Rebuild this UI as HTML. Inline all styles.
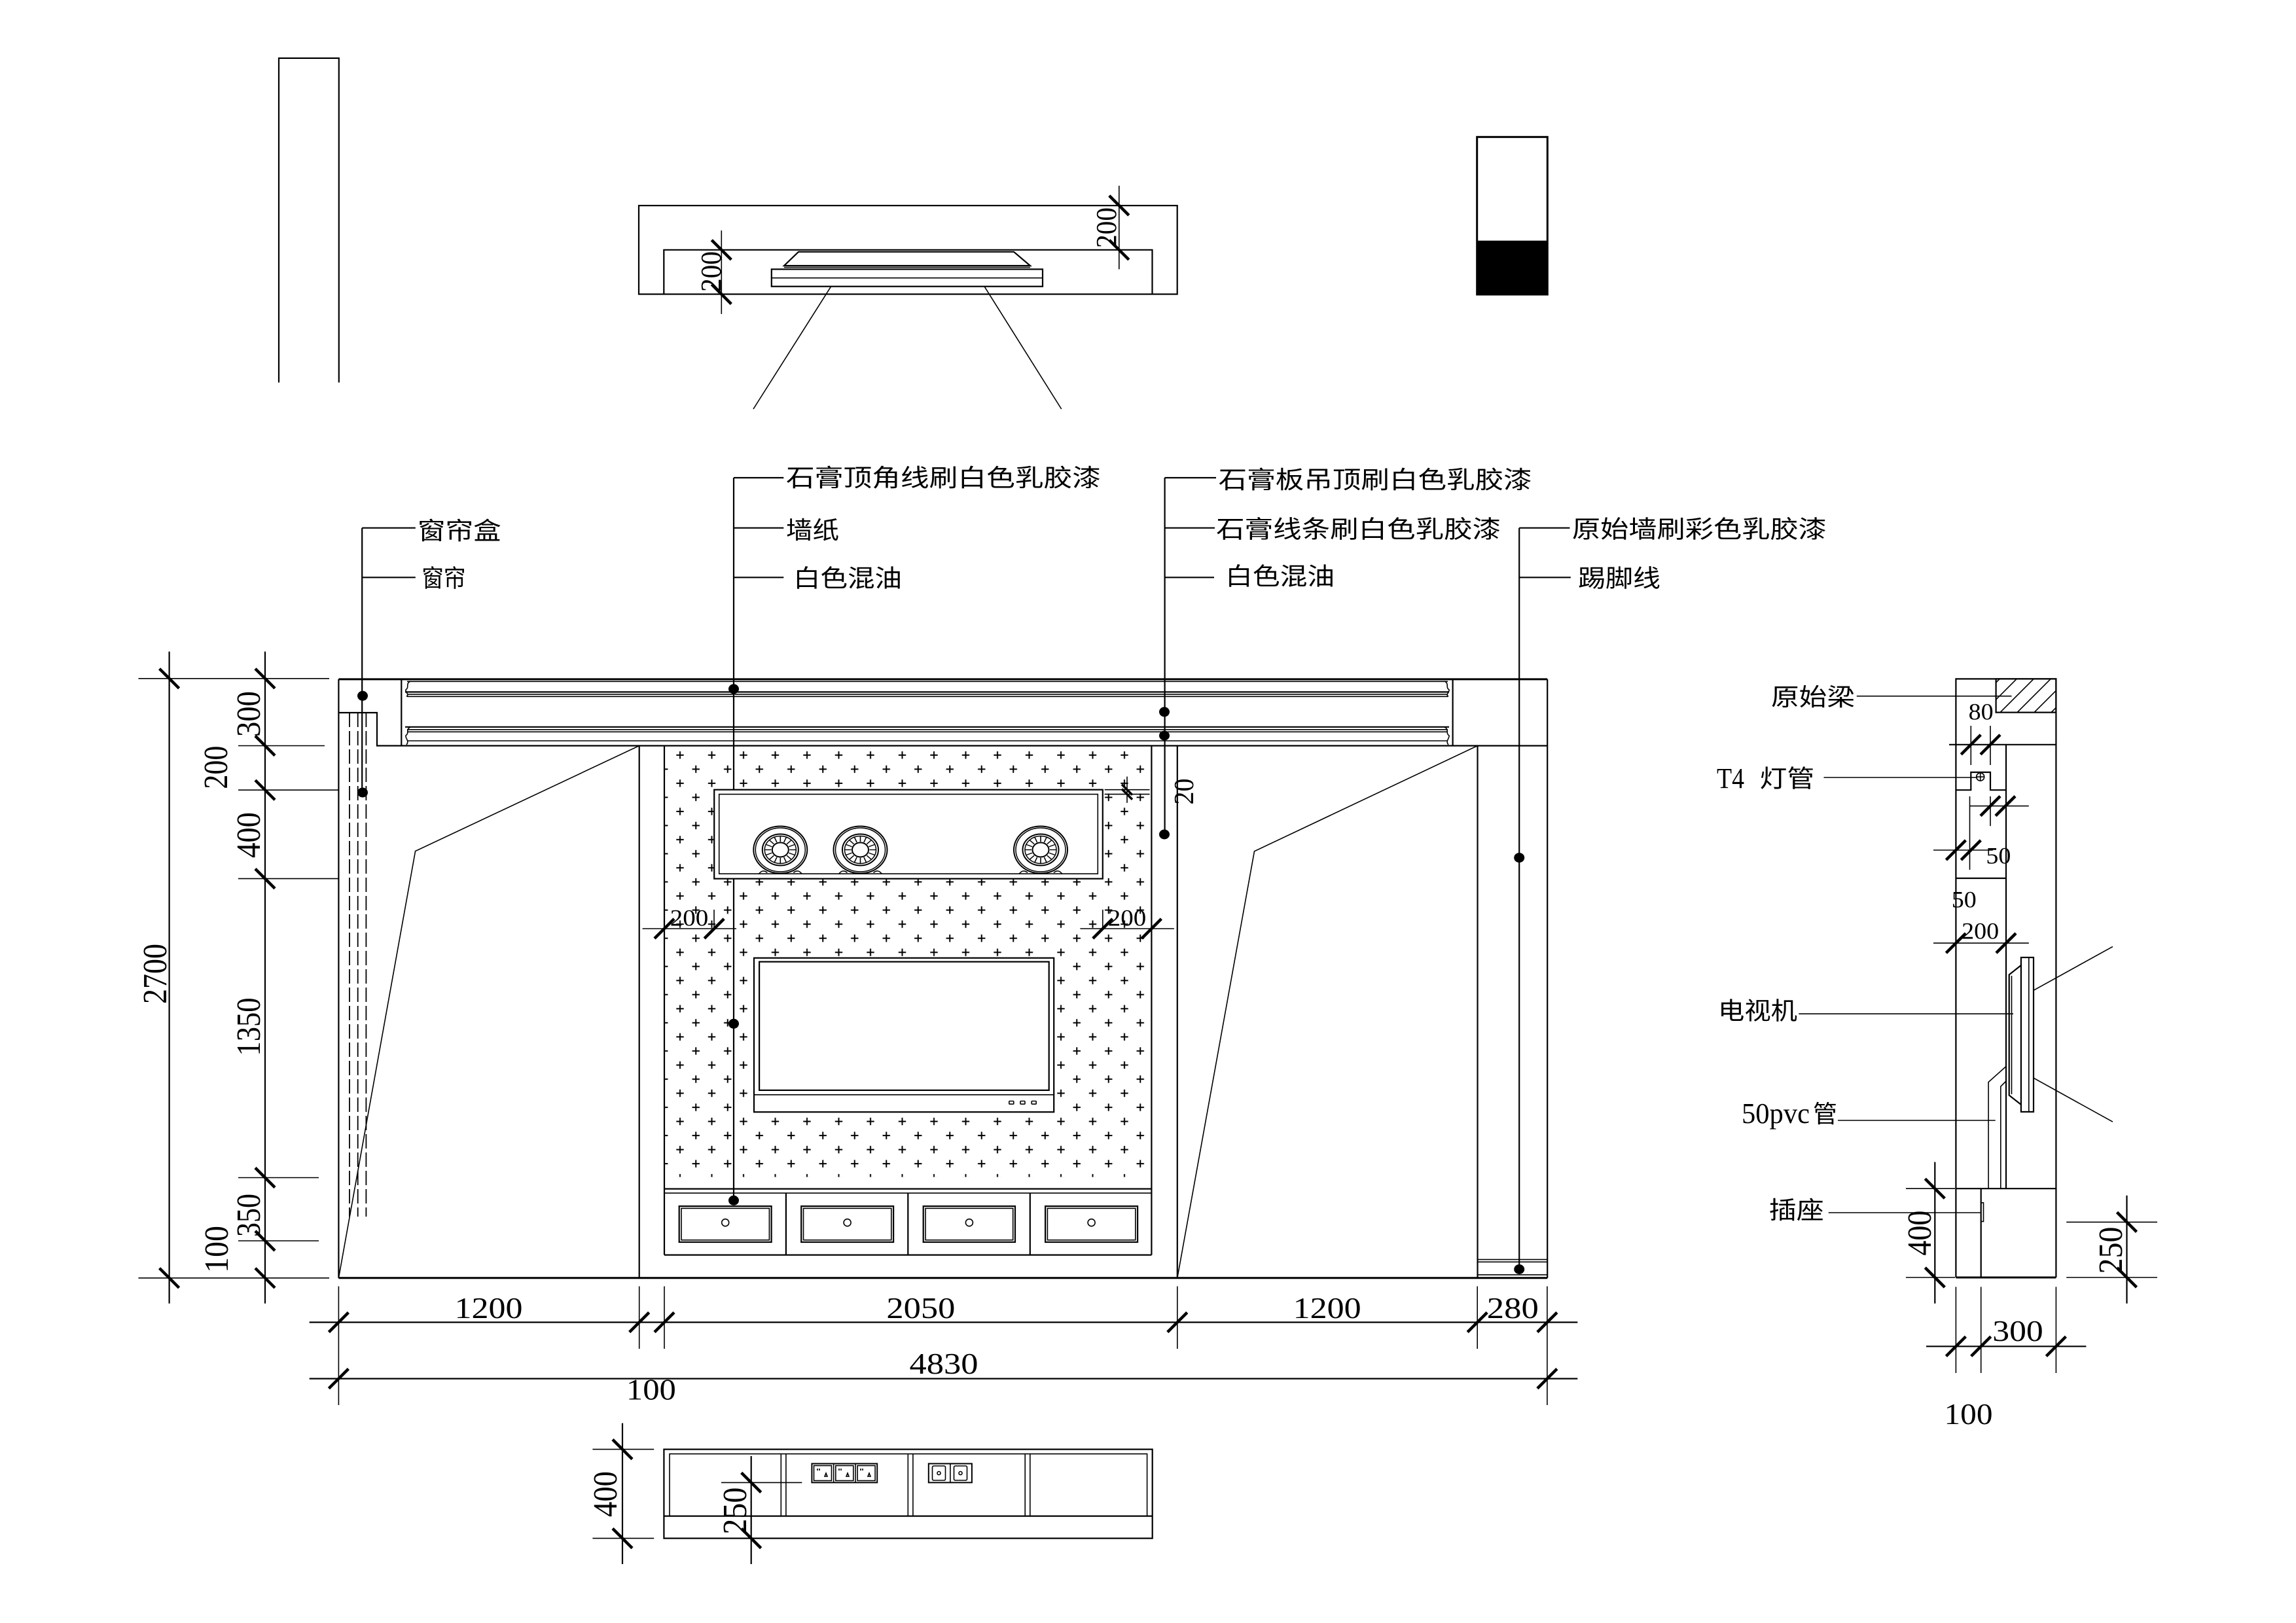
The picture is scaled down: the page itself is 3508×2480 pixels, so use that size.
<!DOCTYPE html>
<html>
<head>
<meta charset="utf-8">
<style>
html,body{margin:0;padding:0;background:#fff;}
svg{display:block;}
.s{stroke:#000;fill:none;stroke-width:2.2;}
.t{stroke:#000;fill:none;stroke-width:1.6;}
.b{stroke:#000;fill:none;stroke-width:3;}
.k{stroke:#000;fill:none;stroke-width:4.5;}
.n{font-family:"Liberation Serif",serif;font-size:46px;fill:#000;}
.r{font-family:"Liberation Serif",serif;font-size:52px;fill:#000;}
.m{font-family:"Liberation Serif",serif;font-size:36px;fill:#000;}
.c{font-family:"Liberation Sans","Noto Sans CJK SC",sans-serif;font-size:37px;fill:#000;}
</style>
</head>
<body>
<svg width="3508" height="2480" viewBox="0 0 3508 2480" xmlns="http://www.w3.org/2000/svg">
<defs>
  <pattern id="wp" patternUnits="userSpaceOnUse" x="1014.75" y="1143.03" width="48.5" height="43.06">
    <path d="M18.55 10.77h11.4M24.25 5.07v11.4M-5.7 32.3h11.4M0 26.6v11.4M42.8 32.3h11.4M48.5 26.6v11.4" stroke="#000" stroke-width="2" fill="none"/>
  </pattern>
  <clipPath id="beam"><rect x="3049.6" y="1037.4" width="91.8" height="51.2"/></clipPath>
  <g id="spk">
    <ellipse cx="0" cy="0" rx="41" ry="36" style="fill:#fff" stroke="#000" stroke-width="2"/>
    <ellipse cx="0" cy="0" rx="38" ry="33.5" fill="none" stroke="#000" stroke-width="1.5"/>
    <ellipse cx="0" cy="0" rx="27.5" ry="24" fill="none" stroke="#000" stroke-width="2"/>
    <ellipse cx="0" cy="0" rx="24" ry="21" fill="none" stroke="#000" stroke-width="1.5"/>
    <g stroke="#000" stroke-width="1.6" transform="scale(1,0.88)">
      <line x1="0" y1="-14" x2="0" y2="-24"/>
      <line x1="0" y1="14" x2="0" y2="24"/>
      <line x1="-14" y1="0" x2="-24" y2="0"/>
      <line x1="14" y1="0" x2="24" y2="0"/>
      <line x1="9.9" y1="9.9" x2="17" y2="17"/>
      <line x1="-9.9" y1="9.9" x2="-17" y2="17"/>
      <line x1="9.9" y1="-9.9" x2="17" y2="-17"/>
      <line x1="-9.9" y1="-9.9" x2="-17" y2="-17"/>
      <line x1="5.4" y1="12.9" x2="9.2" y2="22.2"/>
      <line x1="-5.4" y1="12.9" x2="-9.2" y2="22.2"/>
      <line x1="5.4" y1="-12.9" x2="9.2" y2="-22.2"/>
      <line x1="-5.4" y1="-12.9" x2="-9.2" y2="-22.2"/>
      <line x1="12.9" y1="5.4" x2="22.2" y2="9.2"/>
      <line x1="-12.9" y1="5.4" x2="-22.2" y2="9.2"/>
      <line x1="12.9" y1="-5.4" x2="22.2" y2="-9.2"/>
      <line x1="-12.9" y1="-5.4" x2="-22.2" y2="-9.2"/>
    </g>
    <ellipse cx="0" cy="0" rx="12.5" ry="11" style="fill:#fff" stroke="#000" stroke-width="2"/>
    <path d="M-33 37 Q-27 29 -20 35 M20 35 Q27 29 33 37" fill="none" stroke="#000" stroke-width="1.6"/>
  </g>
</defs>

<rect width="3508" height="2480" fill="#fff"/>

<!-- ============ TOP-LEFT PILLAR ============ -->
<path class="s" d="M426 584.5V88.9H517.8V584.5"/>

<!-- ============ TOP PLAN ============ -->
<rect class="s" x="976" y="314.1" width="822.7" height="135.4"/>
<path class="s" d="M1014.3 449.5V381.8H1760.5V449.5"/>
<path class="s" d="M1220 384.8H1549L1574 406H1198Z"/>
<line class="t" x1="1198" y1="408.5" x2="1574" y2="408.5"/>
<rect class="s" x="1178.8" y="411.4" width="414.2" height="26.3"/>
<line class="t" x1="1178.8" y1="424.7" x2="1593" y2="424.7"/>
<line class="t" x1="1269.7" y1="437.7" x2="1151" y2="625"/>
<line class="t" x1="1504" y1="437.7" x2="1621.7" y2="625"/>
<line class="t" x1="1102.3" y1="352.2" x2="1102.3" y2="479.8"/>
<line class="t" x1="1709.8" y1="283.8" x2="1709.8" y2="411.4"/>
<path class="k" d="M1087.3 366.8L1117.3 396.8M1087.3 434.5L1117.3 464.5M1694.8 299L1724.8 329M1694.8 366.8L1724.8 396.8"/>
<text class="r" style="font-size:44px" text-anchor="middle" textLength="62" lengthAdjust="spacingAndGlyphs" transform="translate(1101,415) rotate(-90)">200</text>
<text class="r" style="font-size:44px" text-anchor="middle" textLength="62" lengthAdjust="spacingAndGlyphs" transform="translate(1705,348) rotate(-90)">200</text>

<!-- ============ TOP-RIGHT BOX ============ -->
<rect x="2256.7" y="209.3" width="107.6" height="240.7" fill="none" stroke="#000" stroke-width="3"/>
<rect x="2256.7" y="367.7" width="107.6" height="82.3" fill="#000"/>

<!-- ============ LABELS & LEADERS ============ -->
<g class="s">
  <path d="M553.2 806.7V1211M553.2 806.7H634.8M553.2 882.3H634.8"/>
  <path d="M1121 730V1834.3M1121 730H1197.3M1121 806.7H1197.3M1121 882.3H1197.3"/>
  <path d="M1779.6 730V1275M1779.6 730H1858M1779.6 806.7H1856M1779.6 882.3H1855"/>
  <path d="M2321.2 806.7V1939.5M2321.2 806.7H2398.4M2321.2 882.3H2399.8"/>
</g>
<g fill="#000">
  <ellipse cx="554" cy="1063.3" rx="8" ry="7.5"/>
  <ellipse cx="554" cy="1211" rx="8" ry="7.5"/>
  <ellipse cx="1121" cy="1052.8" rx="8" ry="7.5"/>
  <ellipse cx="1121" cy="1564.3" rx="8" ry="7.5"/>
  <ellipse cx="1121" cy="1834.3" rx="8" ry="7.5"/>
  <ellipse cx="1779" cy="1087.8" rx="8" ry="7.5"/>
  <ellipse cx="1779" cy="1124" rx="8" ry="7.5"/>
  <ellipse cx="1779" cy="1275" rx="8" ry="7.5"/>
  <ellipse cx="2321.2" cy="1310.6" rx="8" ry="7.5"/>
  <ellipse cx="2321.2" cy="1939.5" rx="8" ry="7.5"/>
</g>
<text class="c" x="638" y="824" textLength="127.6" lengthAdjust="spacingAndGlyphs">窗帘盒</text>
<text class="c" x="644.4" y="896.5" textLength="67" lengthAdjust="spacingAndGlyphs">窗帘</text>
<text class="c" x="1201" y="743" textLength="481" lengthAdjust="spacingAndGlyphs">石膏顶角线刷白色乳胶漆</text>
<text class="c" x="1201" y="823" textLength="81" lengthAdjust="spacingAndGlyphs">墙纸</text>
<text class="c" x="1212" y="896.5" textLength="166" lengthAdjust="spacingAndGlyphs">白色混油</text>
<text class="c" x="1861.7" y="746" textLength="479" lengthAdjust="spacingAndGlyphs">石膏板吊顶刷白色乳胶漆</text>
<text class="c" x="1858.2" y="821.5" textLength="435" lengthAdjust="spacingAndGlyphs">石膏线条刷白色乳胶漆</text>
<text class="c" x="1872.2" y="893.5" textLength="167" lengthAdjust="spacingAndGlyphs">白色混油</text>
<text class="c" x="2401.9" y="821.5" textLength="389" lengthAdjust="spacingAndGlyphs">原始墙刷彩色乳胶漆</text>
<text class="c" x="2411" y="896.5" textLength="126" lengthAdjust="spacingAndGlyphs">踢脚线</text>

<!-- ============ MAIN ELEVATION ============ -->
<rect x="1015" y="1140" width="744.4" height="658.5" fill="url(#wp)"/>
<line class="b" x1="517.4" y1="1037.9" x2="2364.2" y2="1037.9"/>
<line class="b" x1="517.4" y1="1952.8" x2="2364.2" y2="1952.8"/>
<line class="s" x1="517.4" y1="1037.9" x2="517.4" y2="1952.8"/>
<line class="s" x1="2364.2" y1="1037.9" x2="2364.2" y2="1952.8"/>
<path class="s" d="M517.4 1089H576V1139.5H2364.2"/>
<line class="s" x1="613.3" y1="1037.9" x2="613.3" y2="1139.5"/>
<line class="s" x1="2219.6" y1="1037.9" x2="2219.6" y2="1139.5"/>
<g class="t">
  <line x1="622" y1="1041.3" x2="2212" y2="1041.3"/>
  <line x1="622" y1="1060.9" x2="2212" y2="1060.9"/>
  <line x1="622" y1="1064.3" x2="2212" y2="1064.3"/>
  <line x1="622" y1="1114.8" x2="2212" y2="1114.8"/>
  <line x1="622" y1="1118.3" x2="2212" y2="1118.3"/>
  <line x1="622" y1="1132" x2="2212" y2="1132"/>
  <path d="M627 1041 C619 1045 626 1050 620 1054 C619 1058 626 1061 621 1064.3"/>
  <path d="M627 1111 C619 1115 626 1120 620 1124 C619 1128 626 1132 621 1138"/>
  <path d="M2207 1041 C2215 1045 2208 1050 2214 1054 C2215 1058 2208 1061 2213 1064.3"/>
  <path d="M2207 1111 C2215 1115 2208 1120 2214 1124 C2215 1128 2208 1132 2213 1138"/>
</g>
<line class="s" x1="619" y1="1057.4" x2="2214" y2="1057.4"/>
<line class="s" x1="619" y1="1110.8" x2="2214" y2="1110.8"/>
<g stroke="#000" stroke-width="1.8" stroke-dasharray="22 6" fill="none">
  <line x1="534" y1="1089" x2="534" y2="1859"/>
  <line x1="546.7" y1="1089" x2="546.7" y2="1859"/>
  <line x1="559.4" y1="1089" x2="559.4" y2="1859"/>
</g>
<line class="s" x1="976.7" y1="1139.5" x2="976.7" y2="1952.8"/>
<line class="s" x1="1015" y1="1139.5" x2="1015" y2="1917.6"/>
<line class="s" x1="1759.4" y1="1139.5" x2="1759.4" y2="1917.6"/>
<line class="s" x1="1798.8" y1="1139.5" x2="1798.8" y2="1952.8"/>
<line class="s" x1="2257.5" y1="1139.5" x2="2257.5" y2="1952.8"/>
<path class="t" d="M976.7 1139.5L634.6 1300.6L517.4 1952.8"/>
<path class="t" d="M2257.5 1139.5L1916.5 1300.8L1798.8 1952.8"/>
<line class="t" x1="2257.5" y1="1924.6" x2="2364.2" y2="1924.6"/>
<line class="t" x1="2257.5" y1="1928.3" x2="2364.2" y2="1928.3"/>
<line class="t" x1="2257.5" y1="1947.9" x2="2364.2" y2="1947.9"/>
<!-- speaker box -->
<rect x="1091.2" y="1206.7" width="593.6" height="136" style="fill:#fff;stroke:#000;stroke-width:2.2"/>
<rect class="t" x="1098.7" y="1213.6" width="578.6" height="121.6"/>
<use href="#spk" x="1192.3" y="1298.5"/>
<use href="#spk" x="1314.5" y="1298.5"/>
<use href="#spk" x="1590" y="1298.5"/>
<!-- TV -->
<rect x="1152" y="1463.8" width="458.2" height="235.4" style="fill:#fff;stroke:#000;stroke-width:2.2"/>
<rect class="s" x="1160.1" y="1469.6" width="442.6" height="196.3"/>
<line class="t" x1="1152" y1="1672.8" x2="1610.2" y2="1672.8"/>
<g class="t"><rect x="1541.8" y="1682.5" width="7" height="4.6" rx="1"/><rect x="1559" y="1682.5" width="7" height="4.6" rx="1"/><rect x="1576.2" y="1682.5" width="7" height="4.6" rx="1"/></g>
<!-- drawer cabinet -->
<line class="s" x1="1015" y1="1816.6" x2="1759.4" y2="1816.6"/>
<line class="t" x1="1015" y1="1823.1" x2="1759.4" y2="1823.1"/>
<line class="s" x1="1015" y1="1917.6" x2="1759.4" y2="1917.6"/>
<g class="s">
  <line x1="1200.9" y1="1823.1" x2="1200.9" y2="1917.6"/>
  <line x1="1387.3" y1="1823.1" x2="1387.3" y2="1917.6"/>
  <line x1="1573.8" y1="1823.1" x2="1573.8" y2="1917.6"/>
  <rect x="1037.7" y="1843.1" width="140.9" height="54.9"/>
  <rect x="1224.2" y="1843.1" width="140.9" height="54.9"/>
  <rect x="1410.7" y="1843.1" width="140.3" height="54.9"/>
  <rect x="1597.1" y="1843.1" width="141" height="54.9"/>
</g>
<g class="t">
  <rect x="1041" y="1846.4" width="134.4" height="48.4"/>
  <rect x="1227.5" y="1846.4" width="134.3" height="48.4"/>
  <rect x="1414" y="1846.4" width="133.7" height="48.4"/>
  <rect x="1600.4" y="1846.4" width="134.4" height="48.4"/>
  <circle cx="1108.2" cy="1868.2" r="5.5"/>
  <circle cx="1294.6" cy="1868.2" r="5.5"/>
  <circle cx="1480.9" cy="1868.2" r="5.5"/>
  <circle cx="1667.6" cy="1868.2" r="5.5"/>
</g>

<!-- speaker-box dims -->
<g class="t">
  <line x1="981.6" y1="1419" x2="1125" y2="1419"/>
  <line x1="1650.4" y1="1419" x2="1793.9" y2="1419"/>
  <line x1="1091" y1="1390" x2="1091" y2="1419"/>
  <line x1="1684.8" y1="1390" x2="1684.8" y2="1419"/>
  <line x1="1687.6" y1="1206.7" x2="1756.6" y2="1206.7"/>
  <line x1="1687.6" y1="1213.6" x2="1756.6" y2="1213.6"/>
  <line x1="1722" y1="1186.6" x2="1722" y2="1226.8"/>
</g>
<path class="k" d="M1000 1434L1030 1404M1076.2 1434L1106.2 1404M1669.8 1434L1699.8 1404M1744.4 1434L1774.4 1404"/>
<path stroke="#000" stroke-width="3.5" d="M1714 1198.7L1730 1214.7M1714 1205.6L1730 1221.6"/>
<text class="m" x="1053" y="1414.5" text-anchor="middle" textLength="58.5" lengthAdjust="spacingAndGlyphs">200</text>
<text class="m" x="1722" y="1414.5" text-anchor="middle" textLength="58.5" lengthAdjust="spacingAndGlyphs">200</text>
<text class="m" style="font-size:42px" text-anchor="middle" textLength="40" lengthAdjust="spacingAndGlyphs" transform="translate(1823,1209.5) rotate(-90)">20</text>

<!-- left vertical dims -->
<g class="t">
  <line x1="211.5" y1="1036.8" x2="503" y2="1036.8"/>
  <line x1="211.5" y1="1952.8" x2="503" y2="1952.8"/>
  <line x1="364" y1="1139.5" x2="496" y2="1139.5"/>
  <line x1="364" y1="1207.2" x2="517" y2="1207.2"/>
  <line x1="364" y1="1342.6" x2="517" y2="1342.6"/>
  <line x1="364" y1="1799.5" x2="487" y2="1799.5"/>
  <line x1="364" y1="1896" x2="487" y2="1896"/>
</g>
<line class="s" x1="258.6" y1="995.6" x2="258.6" y2="1991.7"/>
<line class="s" x1="405" y1="995.6" x2="405" y2="1991.7"/>
<path class="k" d="M243.6 1021.8L273.6 1051.8M243.6 1937.8L273.6 1967.8M390 1021.8L420 1051.8M390 1124.5L420 1154.5M390 1192.2L420 1222.2M390 1327.6L420 1357.6M390 1784.5L420 1814.5M390 1881L420 1911M390 1937.8L420 1967.8"/>
<text class="r" text-anchor="middle" textLength="92" lengthAdjust="spacingAndGlyphs" transform="translate(254,1488) rotate(-90)">2700</text>
<text class="r" text-anchor="middle" textLength="70" lengthAdjust="spacingAndGlyphs" transform="translate(397,1091) rotate(-90)">300</text>
<text class="r" text-anchor="middle" textLength="66" lengthAdjust="spacingAndGlyphs" transform="translate(347,1172.6) rotate(-90)">200</text>
<text class="r" text-anchor="middle" textLength="70" lengthAdjust="spacingAndGlyphs" transform="translate(397,1276) rotate(-90)">400</text>
<text class="r" text-anchor="middle" textLength="89" lengthAdjust="spacingAndGlyphs" transform="translate(397,1569) rotate(-90)">1350</text>
<text class="r" text-anchor="middle" textLength="66" lengthAdjust="spacingAndGlyphs" transform="translate(397,1857) rotate(-90)">350</text>
<text class="r" text-anchor="middle" textLength="72" lengthAdjust="spacingAndGlyphs" transform="translate(348,1909) rotate(-90)">100</text>

<!-- bottom horizontal dims -->
<line class="s" x1="472.7" y1="2020.5" x2="2410.3" y2="2020.5"/>
<line class="s" x1="472.7" y1="2106.6" x2="2410.3" y2="2106.6"/>
<g class="t">
  <line x1="517.4" y1="1965.5" x2="517.4" y2="2147"/>
  <line x1="976.7" y1="1965.5" x2="976.7" y2="2061"/>
  <line x1="1015" y1="1965.5" x2="1015" y2="2061"/>
  <line x1="1798.8" y1="1965.5" x2="1798.8" y2="2061"/>
  <line x1="2257.2" y1="1965.5" x2="2257.2" y2="2061"/>
  <line x1="2363.9" y1="1965.5" x2="2363.9" y2="2147"/>
</g>
<path class="k" d="M502.4 2035.5L532.4 2005.5M961.7 2035.5L991.7 2005.5M1000 2035.5L1030 2005.5M1783.8 2035.5L1813.8 2005.5M2242.2 2035.5L2272.2 2005.5M2348.9 2035.5L2378.9 2005.5M502.4 2121.6L532.4 2091.6M2348.9 2121.6L2378.9 2091.6"/>
<text class="n" x="746.5" y="2014" text-anchor="middle" textLength="104" lengthAdjust="spacingAndGlyphs">1200</text>
<text class="n" x="1406.9" y="2014" text-anchor="middle" textLength="105" lengthAdjust="spacingAndGlyphs">2050</text>
<text class="n" x="2027.6" y="2014" text-anchor="middle" textLength="104" lengthAdjust="spacingAndGlyphs">1200</text>
<text class="n" x="2311.3" y="2014" text-anchor="middle" textLength="79" lengthAdjust="spacingAndGlyphs">280</text>
<text class="n" x="1442" y="2099" text-anchor="middle" textLength="105" lengthAdjust="spacingAndGlyphs">4830</text>
<text class="n" x="994.9" y="2138.7" text-anchor="middle" textLength="76" lengthAdjust="spacingAndGlyphs">100</text>

<!-- ============ BOTTOM PLAN ============ -->
<rect class="s" x="1014.4" y="2214.6" width="746.3" height="136"/>
<path class="t" d="M1023 2316.6V2221.6H1752.6V2316.6"/>
<line class="s" x1="1014.4" y1="2316.6" x2="1760.7" y2="2316.6"/>
<g class="t">
  <line x1="1193.3" y1="2221.6" x2="1193.3" y2="2316.6"/>
  <line x1="1200.9" y1="2221.6" x2="1200.9" y2="2316.6"/>
  <line x1="1387.3" y1="2221.6" x2="1387.3" y2="2316.6"/>
  <line x1="1394.9" y1="2221.6" x2="1394.9" y2="2316.6"/>
  <line x1="1566.2" y1="2221.6" x2="1566.2" y2="2316.6"/>
  <line x1="1573.8" y1="2221.6" x2="1573.8" y2="2316.6"/>
</g>
<g class="t">
  <rect x="1240.4" y="2236.5" width="99.8" height="28.9" stroke-width="2"/>
  <line x1="1273.7" y1="2236.5" x2="1273.7" y2="2265.4"/>
  <line x1="1307" y1="2236.5" x2="1307" y2="2265.4"/>
  <rect x="1243.5" y="2239.5" width="27" height="23"/>
  <rect x="1276.8" y="2239.5" width="27" height="23"/>
  <rect x="1310.1" y="2239.5" width="27" height="23"/>
  <path d="M1249 2244v3M1252 2244v3M1262 2251l-2 5h4ZM1282 2244v3M1285 2244v3M1295 2251l-2 5h4ZM1315 2244v3M1318 2244v3M1328 2251l-2 5h4Z"/>
  <rect x="1418.8" y="2236.5" width="66.1" height="28.9" stroke-width="2"/>
  <line x1="1451.9" y1="2236.5" x2="1451.9" y2="2265.4"/>
  <rect x="1424.5" y="2240" width="20" height="22" rx="2"/>
  <rect x="1457.5" y="2240" width="20" height="22" rx="2"/>
  <circle cx="1434.5" cy="2251" r="2.5"/>
  <circle cx="1467.5" cy="2251" r="2.5"/>
</g>
<g class="t">
  <line x1="905.4" y1="2214.6" x2="999.2" y2="2214.6"/>
  <line x1="905.4" y1="2350.6" x2="999.2" y2="2350.6"/>
  <line x1="1102" y1="2265.4" x2="1225.3" y2="2265.4"/>
</g>
<line class="s" x1="951" y1="2174.6" x2="951" y2="2390"/>
<line class="s" x1="1147.7" y1="2224.9" x2="1147.7" y2="2390"/>
<path class="k" d="M936 2199.6L966 2229.6M936 2335.6L966 2365.6M1132.7 2250.4L1162.7 2280.4M1132.7 2335.6L1162.7 2365.6"/>
<text class="r" text-anchor="middle" textLength="70" lengthAdjust="spacingAndGlyphs" transform="translate(942,2283) rotate(-90)">400</text>
<text class="r" text-anchor="middle" textLength="72" lengthAdjust="spacingAndGlyphs" transform="translate(1140,2308.6) rotate(-90)">250</text>

<!-- ============ SIDE SECTION ============ -->
<path class="s" d="M2988.4 1952V1037.4H3141.4V1952"/>
<line class="b" x1="2988.4" y1="1952" x2="3141.4" y2="1952"/>
<rect class="s" x="3049.6" y="1037.4" width="91.8" height="51.2"/>
<g clip-path="url(#beam)" class="t">
  <line x1="2978" y1="1088.6" x2="3029.2" y2="1037.4"/>
  <line x1="3004" y1="1088.6" x2="3055.2" y2="1037.4"/>
  <line x1="3030" y1="1088.6" x2="3081.2" y2="1037.4"/>
  <line x1="3056" y1="1088.6" x2="3107.2" y2="1037.4"/>
  <line x1="3082" y1="1088.6" x2="3133.2" y2="1037.4"/>
  <line x1="3108" y1="1088.6" x2="3159.2" y2="1037.4"/>
  <line x1="3134" y1="1088.6" x2="3185.2" y2="1037.4"/>
</g>
<line class="s" x1="2978" y1="1137.8" x2="3141.4" y2="1137.8"/>
<line class="s" x1="3065" y1="1137.8" x2="3065" y2="1816.2"/>
<path class="s" d="M2988.4 1207.2H3011.3V1180H3041V1207.2H3065"/>
<circle class="t" cx="3025.7" cy="1187.1" r="6"/>
<path class="t" d="M3019.7 1187.1h12M3025.7 1181.1v12"/>
<line class="s" x1="2988.4" y1="1342" x2="3065" y2="1342"/>
<g class="t">
  <line x1="3011.3" y1="1109" x2="3011.3" y2="1169"/>
  <line x1="3041" y1="1109" x2="3041" y2="1169"/>
  <line x1="3009" y1="1231.6" x2="3099.8" y2="1231.6"/>
  <line x1="3041" y1="1216.8" x2="3041" y2="1262.2"/>
  <line x1="3009.5" y1="1216.8" x2="3009.5" y2="1329"/>
  <line x1="2954" y1="1299" x2="3044.8" y2="1299"/>
  <line x1="2954" y1="1441.1" x2="3099.8" y2="1441.1"/>
</g>
<path class="k" d="M2996.3 1152.8L3026.3 1122.8M3026 1152.8L3056 1122.8M3026 1246.6L3056 1216.6M3049 1246.6L3079 1216.6M2973.4 1314L3003.4 1284M2996.3 1314L3026.3 1284M2973.4 1456.1L3003.4 1426.1M3050 1456.1L3080 1426.1"/>
<text class="m" x="3026.7" y="1099.6" text-anchor="middle" textLength="38" lengthAdjust="spacingAndGlyphs">80</text>
<text class="m" x="3053.4" y="1319.6" text-anchor="middle" textLength="38" lengthAdjust="spacingAndGlyphs">50</text>
<text class="m" x="3000.8" y="1386.6" text-anchor="middle" textLength="38" lengthAdjust="spacingAndGlyphs">50</text>
<text class="m" x="3025.7" y="1434.4" text-anchor="middle" textLength="57" lengthAdjust="spacingAndGlyphs">200</text>
<rect class="s" x="3087.9" y="1463" width="19.1" height="235.9"/>
<line class="t" x1="3099.8" y1="1463" x2="3099.8" y2="1698.9"/>
<path class="s" d="M3087.9 1475L3069.7 1489.4V1673.6L3087.9 1687.9"/>
<line class="t" x1="3073.5" y1="1491" x2="3073.5" y2="1672"/>
<line class="t" x1="3107" y1="1513.3" x2="3228" y2="1446.4"/>
<line class="t" x1="3107" y1="1647.2" x2="3228" y2="1714.2"/>
<path class="t" d="M3065 1629.5L3038.1 1653.5V1816.2"/>
<path class="t" d="M3065 1652L3056.8 1660.2V1816.2"/>
<line class="s" x1="2988.4" y1="1816.2" x2="3141.4" y2="1816.2"/>
<line class="s" x1="3026.7" y1="1816.2" x2="3026.7" y2="1952"/>
<rect class="t" x="3026.7" y="1837.8" width="3.8" height="28.7"/>
<g class="t">
  <line x1="2836.8" y1="1063.7" x2="3073.5" y2="1063.7"/>
  <line x1="2786.5" y1="1188" x2="3021" y2="1188"/>
  <line x1="2748.3" y1="1549.2" x2="3076" y2="1549.2"/>
  <line x1="2808" y1="1712" x2="3048.7" y2="1712"/>
  <line x1="2793.7" y1="1853" x2="3025.7" y2="1853"/>
</g>
<text class="c" x="2706" y="1078" textLength="128" lengthAdjust="spacingAndGlyphs">原始梁</text>
<text class="n" style="font-size:44px" x="2623" y="1204" textLength="42" lengthAdjust="spacingAndGlyphs">T4</text>
<text class="c" x="2688.5" y="1202.5" textLength="83.7" lengthAdjust="spacingAndGlyphs">灯管</text>
<text class="c" x="2625" y="1557.5" textLength="121" lengthAdjust="spacingAndGlyphs">电视机</text>
<text class="n" style="font-size:44px" x="2661" y="1716" textLength="104" lengthAdjust="spacingAndGlyphs">50pvc</text>
<text class="c" x="2770" y="1715" textLength="37" lengthAdjust="spacingAndGlyphs">管</text>
<text class="c" x="2702.8" y="1862" textLength="84" lengthAdjust="spacingAndGlyphs">插座</text>
<g class="t">
  <line x1="2911.9" y1="1816.2" x2="2987" y2="1816.2"/>
  <line x1="2911.9" y1="1952" x2="2987" y2="1952"/>
  <line x1="3157.2" y1="1867.4" x2="3296" y2="1867.4"/>
  <line x1="3157.2" y1="1952" x2="3296" y2="1952"/>
  <line x1="2988.4" y1="1966.4" x2="2988.4" y2="2098"/>
  <line x1="3026.7" y1="1966.4" x2="3026.7" y2="2098"/>
  <line x1="3141.4" y1="1966.4" x2="3141.4" y2="2098"/>
</g>
<line class="s" x1="2956.3" y1="1775.6" x2="2956.3" y2="1991.8"/>
<line class="s" x1="3249.5" y1="1826.8" x2="3249.5" y2="1991.8"/>
<line class="s" x1="2943" y1="2057.3" x2="3187.4" y2="2057.3"/>
<path class="k" d="M2941.3 1801.2L2971.3 1831.2M2941.3 1937L2971.3 1967M3234.5 1852.4L3264.5 1882.4M3234.5 1937L3264.5 1967M2973.4 2072.3L3003.4 2042.3M3011.7 2072.3L3041.7 2042.3M3126.4 2072.3L3156.4 2042.3"/>
<text class="r" text-anchor="middle" textLength="69" lengthAdjust="spacingAndGlyphs" transform="translate(2950,1884.1) rotate(-90)">400</text>
<text class="r" text-anchor="middle" textLength="72" lengthAdjust="spacingAndGlyphs" transform="translate(3242,1910.5) rotate(-90)">250</text>
<text class="n" x="3083" y="2049.2" text-anchor="middle" textLength="77.5" lengthAdjust="spacingAndGlyphs">300</text>
<text class="n" x="3007.5" y="2175.9" text-anchor="middle" textLength="74" lengthAdjust="spacingAndGlyphs">100</text>
</svg>
</body>
</html>
